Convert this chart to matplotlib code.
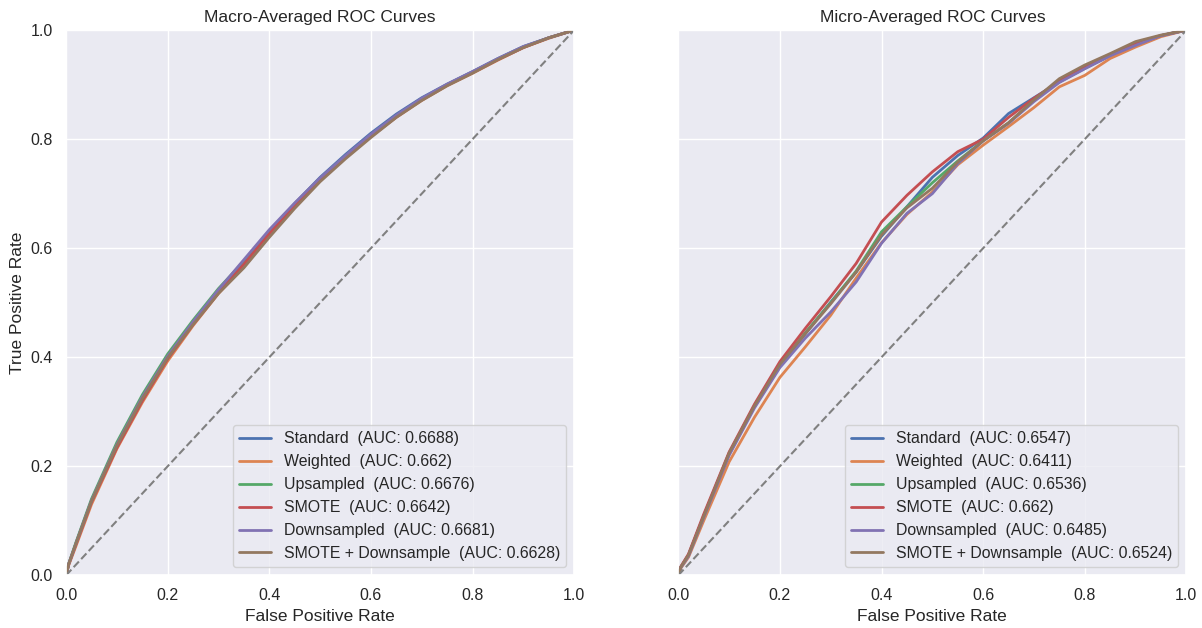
import matplotlib
matplotlib.use('Agg')
import matplotlib.pyplot as plt
import seaborn as sns

sns.set_theme(style='darkgrid')
plt.rcParams['font.family'] = ['Liberation Sans', 'DejaVu Sans']
plt.rcParams.update({'axes.titlesize': 12.5, 'axes.labelsize': 12.5,
                     'xtick.labelsize': 11.5, 'ytick.labelsize': 11.5,
                     'legend.fontsize': 11.4})

# shared false-positive-rate grid
fpr = [0, 0.005, 0.02, 0.05, 0.1, 0.15, 0.2, 0.25, 0.3, 0.35, 0.4, 0.45,
       0.5, 0.55, 0.6, 0.65, 0.7, 0.75, 0.8, 0.85, 0.9, 0.95, 1.0]

model_names = ['Standard', 'Weighted', 'Upsampled', 'SMOTE', 'Downsampled', 'SMOTE + Downsample']

# macro-averaged TPR per model
macro_standard = [0, 0.02, 0.06, 0.137, 0.24, 0.326, 0.401, 0.463, 0.522, 0.575, 0.631, 0.682,
                  0.73, 0.772, 0.811, 0.846, 0.876, 0.901, 0.924, 0.948, 0.97, 0.986, 1.0]
macro_weighted = [0, 0.018, 0.055, 0.13, 0.232, 0.317, 0.393, 0.458, 0.517, 0.566, 0.623, 0.677,
                  0.725, 0.766, 0.805, 0.84, 0.871, 0.898, 0.921, 0.945, 0.968, 0.985, 1.0]
macro_upsampled = [0, 0.021, 0.062, 0.14, 0.244, 0.331, 0.406, 0.468, 0.526, 0.576, 0.63, 0.68,
                   0.727, 0.768, 0.807, 0.842, 0.873, 0.9, 0.923, 0.947, 0.969, 0.986, 1.0]
macro_smote = [0, 0.02, 0.058, 0.134, 0.234, 0.32, 0.397, 0.46, 0.518, 0.571, 0.627, 0.678,
               0.726, 0.767, 0.805, 0.841, 0.872, 0.899, 0.922, 0.946, 0.968, 0.986, 1.0]
macro_down = [0, 0.02, 0.06, 0.137, 0.24, 0.327, 0.402, 0.465, 0.524, 0.579, 0.634, 0.683,
              0.729, 0.77, 0.809, 0.844, 0.875, 0.901, 0.924, 0.948, 0.97, 0.986, 1.0]
macro_smote_down = [0, 0.02, 0.06, 0.136, 0.238, 0.324, 0.399, 0.46, 0.517, 0.564, 0.62, 0.673,
                    0.722, 0.764, 0.803, 0.84, 0.871, 0.898, 0.921, 0.946, 0.968, 0.986, 1.0]
macro_auc = [0.6688, 0.662, 0.6676, 0.6642, 0.6681, 0.6628]

# micro-averaged TPR per model
micro_standard = [0, 0.015, 0.037, 0.108, 0.222, 0.31, 0.384, 0.443, 0.501, 0.556, 0.622, 0.676,
                  0.73, 0.77, 0.802, 0.847, 0.876, 0.905, 0.93, 0.953, 0.974, 0.99, 1.0]
micro_weighted = [0, 0.013, 0.033, 0.1, 0.208, 0.29, 0.363, 0.419, 0.477, 0.545, 0.61, 0.662,
                  0.703, 0.753, 0.789, 0.823, 0.858, 0.896, 0.917, 0.948, 0.969, 0.988, 1.0]
micro_upsampled = [0, 0.015, 0.037, 0.109, 0.224, 0.311, 0.386, 0.445, 0.5, 0.558, 0.63, 0.676,
                   0.72, 0.76, 0.797, 0.83, 0.871, 0.907, 0.932, 0.955, 0.975, 0.99, 1.0]
micro_smote = [0, 0.016, 0.039, 0.112, 0.226, 0.314, 0.392, 0.453, 0.511, 0.572, 0.648, 0.697,
               0.74, 0.777, 0.8, 0.84, 0.875, 0.906, 0.932, 0.955, 0.975, 0.99, 1.0]
micro_down = [0, 0.014, 0.035, 0.106, 0.22, 0.307, 0.381, 0.435, 0.483, 0.538, 0.609, 0.664,
              0.7, 0.755, 0.797, 0.829, 0.869, 0.904, 0.929, 0.953, 0.972, 0.99, 1.0]
micro_smote_down = [0, 0.015, 0.037, 0.108, 0.224, 0.311, 0.387, 0.443, 0.498, 0.556, 0.624, 0.674,
                    0.71, 0.758, 0.797, 0.83, 0.872, 0.911, 0.936, 0.957, 0.979, 0.991, 1.0]
micro_auc = [0.6547, 0.6411, 0.6536, 0.662, 0.6485, 0.6524]

macro_tprs = [macro_standard, macro_weighted, macro_upsampled, macro_smote, macro_down, macro_smote_down]
micro_tprs = [micro_standard, micro_weighted, micro_upsampled, micro_smote, micro_down, micro_smote_down]

fig, (ax1, ax2) = plt.subplots(1, 2, figsize=(12.02, 6.28), dpi=100, sharey=True)
fig.subplots_adjust(left=0.055, right=0.987, top=0.952, bottom=0.084, wspace=0.205)

for ax, tprs, aucs, title in [(ax1, macro_tprs, macro_auc, 'Macro-Averaged ROC Curves'),
                              (ax2, micro_tprs, micro_auc, 'Micro-Averaged ROC Curves')]:
    for name, tpr, auc in zip(model_names, tprs, aucs):
        ax.plot(fpr, tpr, linewidth=2, label=f'{name}  (AUC: {auc})')
    ax.plot([0, 1], [0, 1], '--', color='gray', linewidth=1.5)
    ax.set_xlim(0, 1)
    ax.set_ylim(0, 1)
    ax.set_title(title)
    ax.set_xlabel('False Positive Rate')
    ax.legend(loc='lower right')

ax1.set_ylabel('True Positive Rate')

fig.savefig('out.png')
